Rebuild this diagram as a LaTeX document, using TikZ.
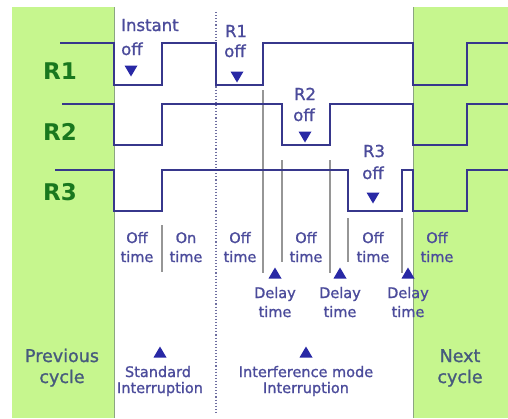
\documentclass[tikz,border=0pt]{standalone}
\usepackage{fontspec}
\setmainfont{DejaVu Sans}
\newfontfamily\semifont[FakeBold=1.2]{DejaVu Sans}
\definecolor{bggreen}{RGB}{198,246,142}
\definecolor{panelline}{RGB}{140,165,130}
\definecolor{wavec}{RGB}{55,55,140}
\definecolor{tric}{RGB}{40,40,165}
\definecolor{txtc}{RGB}{75,75,155}
\definecolor{cycc}{RGB}{70,90,125}
\definecolor{rgreen}{RGB}{25,120,30}
\definecolor{guidec}{RGB}{150,150,150}
\definecolor{dotc}{RGB}{110,110,160}
\begin{document}
\begin{tikzpicture}[x=1pt,y=-1pt,
  wave/.style={draw=wavec,line width=2pt,line join=miter},
  guide/.style={draw=guidec,line width=1.2pt},
  lbl/.style={text=txtc,inner sep=0pt,anchor=base,font=\semifont\fontsize{14.5}{17}\selectfont},
  toplbl/.style={lbl,font=\semifont\fontsize{16.5}{19}\selectfont},
  cyclbl/.style={inner sep=0pt,anchor=base,text=cycc,font=\semifont\fontsize{17.5}{20}\selectfont},
  rlbl/.style={inner sep=0pt,anchor=base,text=rgreen,font=\fontsize{23}{26}\selectfont\bfseries},
  dtri/.pic={\fill[tric] (-6.5,-5.5) -- (6.5,-5.5) -- (0,5.5) -- cycle;},
  utri/.pic={\fill[tric] (-6.5,5.5) -- (6.5,5.5) -- (0,-5.5) -- cycle;}]
\useasboundingbox (0,0) rectangle (508,418);
\fill[white] (0,0) rectangle (508,418);
% green panels
\fill[bggreen] (12,7) rectangle (114,418);
\fill[bggreen] (413,7) rectangle (508,418);
\draw[panelline,line width=0.8pt] (114,7) -- (114,418);
\draw[panelline,line width=0.8pt] (413,7) -- (413,418);
% dotted separator
\draw[dotc,dotted,line width=1.1pt] (216,12) -- (216,412);
% guide lines
\draw[guide] (162,225) -- (162,272);
\draw[guide] (263,90) -- (263,273);
\draw[guide] (282,160) -- (282,262);
\draw[guide] (330,160) -- (330,273);
\draw[guide] (348,218) -- (348,262);
\draw[guide] (402,218) -- (402,273);
% waveforms
\draw[wave] (60,43) -- (114,43) -- (114,85) -- (162,85) -- (162,43) -- (216,43) -- (216,85) -- (263,85) -- (263,43) -- (413,43) -- (413,85) -- (467,85) -- (467,43) -- (508,43);
\draw[wave] (62,104) -- (114,104) -- (114,145) -- (162,145) -- (162,104) -- (282,104) -- (282,145) -- (330,145) -- (330,104) -- (413,104) -- (413,145) -- (467,145) -- (467,104) -- (508,104);
\draw[wave] (55,170) -- (114,170) -- (114,211) -- (162,211) -- (162,170) -- (348,170) -- (348,211) -- (402,211) -- (402,170) -- (413,170) -- (413,211) -- (467,211) -- (467,170) -- (508,170);
% relay labels
\node[rlbl] (r1) at (60,79) {R1};
\node[rlbl] (r2) at (60,140) {R2};
\node[rlbl] (r3) at (60,200) {R3};
% top labels
\node[toplbl,anchor=base west] (inst1) at (121,31) {Instant};
\node[toplbl,anchor=base west] (inst2) at (121,55) {off};
\pic at (131,71) {dtri};
\node[toplbl] (r1o1) at (236,37) {R1};
\node[toplbl] (r1o2) at (235,57) {off};
\pic at (237,77) {dtri};
\node[toplbl] (r2o1) at (305,100) {R2};
\node[toplbl] (r2o2) at (304,121) {off};
\pic at (305,137) {dtri};
\node[toplbl] (r3o1) at (374,157) {R3};
\node[toplbl] (r3o2) at (373,179) {off};
\pic at (373,198) {dtri};
% time labels
\foreach \n/\x/\t in {a/137/Off,b/186/On,c/240/Off,d/306/Off,e/373/Off,f/437/Off}{
  \node[lbl] (t\n1) at (\x,243) {\t};
  \node[lbl] (t\n2) at (\x,262) {time};
}
% delay labels
\foreach \n/\x in {a/275,b/340,c/408}{
  \pic at (\x,273) {utri};
  \node[lbl] (d\n1) at (\x,298) {Delay};
  \node[lbl] (d\n2) at (\x,317) {time};
}
% interruption labels
\pic at (160,352) {utri};
\node[lbl] (std1) at (158,377) {Standard};
\node[lbl] (std2) at (160,393) {Interruption};
\pic at (306,352) {utri};
\node[lbl] (int1) at (306,377) {Interference mode};
\node[lbl] (int2) at (306,393) {Interruption};
% cycles
\node[cyclbl] (prev1) at (62,362) {Previous};
\node[cyclbl] (prev2) at (62,383) {cycle};
\node[cyclbl] (next1) at (460,362) {Next};
\node[cyclbl] (next2) at (460,383) {cycle};
\end{tikzpicture}
\end{document}
